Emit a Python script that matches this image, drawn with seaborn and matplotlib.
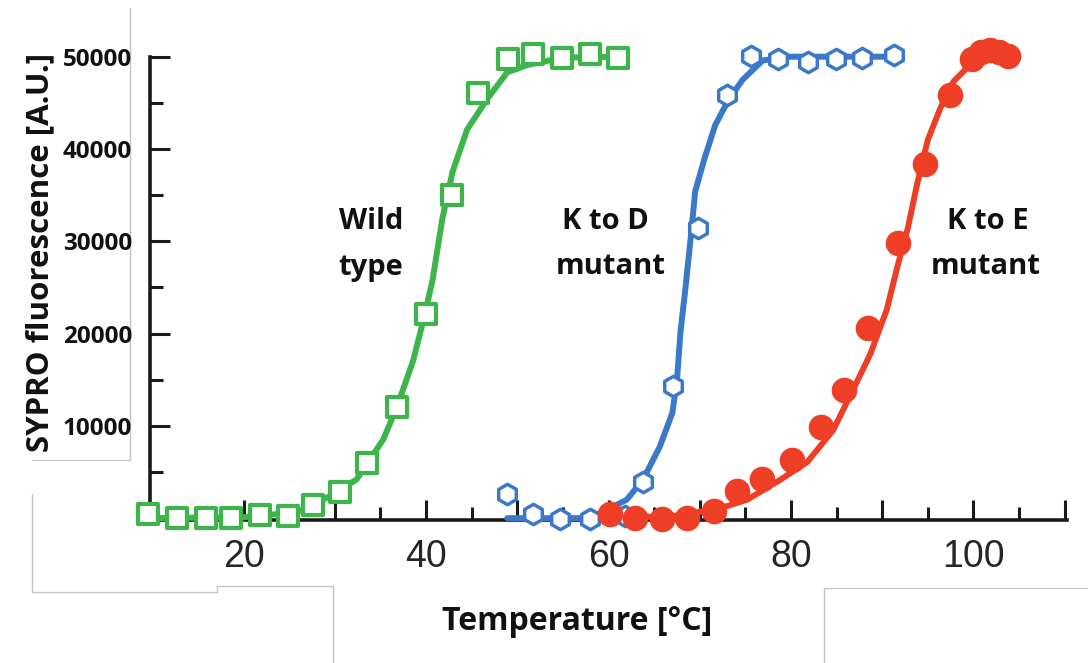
import numpy as np
import pandas as pd
import matplotlib
matplotlib.use("Agg")
import matplotlib.pyplot as plt
from matplotlib.lines import Line2D
from matplotlib.ticker import FixedLocator
import seaborn as sns

# ---- measured melt curves (temperature in deg C, SYPRO signal in A.U.) ----
wt_temp = [9.5, 12.7, 15.9, 18.6, 21.8, 24.9, 27.6, 30.6, 33.5, 36.8, 40.0,
           42.8, 45.7, 49.0, 51.7, 54.9, 58.0, 61.0]
wt_signal = [430, 0, 0, 0, 320, 220, 1400, 2800, 6000, 12000, 22100,
             35000, 46100, 49800, 50300, 49900, 50300, 49900]

kd_temp = [48.9, 51.7, 54.7, 58.0, 61.8, 63.8, 67.1, 69.8, 73.0, 75.6, 78.6,
           81.9, 84.9, 87.8, 91.3]
kd_signal = [2600, 430, -100, -100, 200, 3900, 14300, 31400, 45800, 50100,
             49700, 49400, 49800, 49900, 50200]

ke_temp = [60.2, 62.9, 65.9, 68.6, 71.6, 74.1, 76.8, 80.1, 83.3, 85.8, 88.4,
           91.7, 94.7, 97.4, 99.8, 100.8, 101.8, 102.8, 103.8]
ke_signal = [430, 0, -100, 0, 750, 2900, 4200, 6300, 9900, 13900, 20600,
             29800, 38400, 45900, 49800, 50500, 50700, 50500, 50100]

# ---- fitted transition curves ----
wt_fit_temp = [9.5, 20.0, 25.9, 29.5, 32.4, 35.3, 36.8, 38.6, 39.7, 40.7, 41.8,
               42.9, 44.5, 46.7, 48.9, 51.1, 55.0, 61.0]
wt_fit_signal = [0, 100, 650, 2400, 4200, 8500, 12000, 17100, 21400, 25700,
                 32500, 37500, 42100, 45400, 48300, 49100, 49900, 50000]

kd_fit_temp = [48.9, 58.0, 62.0, 63.8, 65.6, 67.0, 67.5, 67.9, 68.4, 69.0, 69.5,
               70.5, 71.7, 73.2, 74.7, 76.9, 80.0, 91.3]
kd_fit_signal = [0, 0, 2000, 4200, 7700, 11400, 14900, 20300, 24600, 30300,
                 35400, 38900, 42600, 45400, 47500, 49600, 50000, 50000]

ke_fit_temp = [60.2, 68.0, 73.0, 75.2, 78.9, 81.8, 84.6, 86.8, 88.7, 90.5, 91.7,
               92.8, 93.8, 95.0, 96.4, 97.8, 99.7, 102.9, 104.3]
ke_fit_signal = [0, 300, 1300, 2000, 4200, 6100, 9500, 13900, 17800, 22600,
                 27400, 31400, 36100, 41000, 44500, 47300, 49200, 50400, 50200]

# ---- axis ticks and labels ----
x_major_ticks = [20, 30, 40, 50, 60, 70, 80, 90, 100, 110]
x_tick_labels = ["20", "", "40", "", "60", "", "80", "", "100", ""]
x_minor_ticks = [15, 25, 35, 45, 55, 65, 75, 85, 95, 105]
y_major_ticks = [10000, 20000, 30000, 40000, 50000]
y_tick_labels = ["10000", "20000", "30000", "40000", "50000"]
y_minor_ticks = [5000, 15000, 25000, 35000, 45000]

# curve captions: first line, second line, centre x of each line (pixels)
caption_lines = [("Wild", "type"), ("K to D", "mutant"), ("K to E", "mutant")]
caption_centres = [(371, 371), (605, 611), (988, 986)]

GREEN = "#3db54a"
BLUE = "#3a79c9"
RED = "#ee3f26"

sns.set_theme(style="white")
plt.rcParams["font.family"] = ["Open Sans", "DejaVu Sans"]

W, H = 1088, 663
fig = plt.figure(figsize=(W / 100, H / 100), dpi=100)
fig.patch.set_facecolor("white")


def fx(px):
    return px / W


def fy(py):
    return 1 - py / H


ax = fig.add_axes([fx(150), fy(520), fx(1067) - fx(150), fy(56.7) - fy(520)])
ax.set_facecolor("white")

# fitted curves
for t, s, c in [(wt_fit_temp, wt_fit_signal, GREEN),
                (kd_fit_temp, kd_fit_signal, BLUE),
                (ke_fit_temp, ke_fit_signal, RED)]:
    sns.lineplot(x=t, y=s, ax=ax, color=c, lw=4.3, sort=False,
                 estimator=None, zorder=3, clip_on=False)

# measured points
sns.scatterplot(x=wt_temp, y=wt_signal, ax=ax, marker="s", s=215,
                facecolor="white", edgecolor=GREEN, linewidth=3.0,
                zorder=4, clip_on=False)
sns.scatterplot(x=kd_temp, y=kd_signal, ax=ax, marker="h", s=215,
                facecolor="white", edgecolor=BLUE, linewidth=2.5,
                zorder=4, clip_on=False)
sns.scatterplot(x=ke_temp, y=ke_signal, ax=ax, marker="o", s=340,
                color=RED, edgecolor=RED, linewidth=0,
                zorder=5, clip_on=False)

ax.set_xlim(9.75, 110.25)
ax.set_ylim(-200, 50000)

for side in ["top", "right"]:
    ax.spines[side].set_visible(False)
for side in ["left", "bottom"]:
    ax.spines[side].set_linewidth(2.6)
    ax.spines[side].set_color("#1a1a1a")
    ax.spines[side].set_zorder(2)

ax.xaxis.set_major_locator(FixedLocator(x_major_ticks))
ax.xaxis.set_minor_locator(FixedLocator(x_minor_ticks))
ax.set_xticklabels(x_tick_labels)
ax.yaxis.set_major_locator(FixedLocator(y_major_ticks))
ax.yaxis.set_minor_locator(FixedLocator(y_minor_ticks))
ax.set_yticklabels(y_tick_labels)

ax.tick_params(axis="both", which="both", bottom=True, left=True,
               top=False, right=False)
ax.tick_params(axis="both", which="major", direction="in", length=14.5,
               width=2.2, color="#1a1a1a")
ax.tick_params(axis="both", which="minor", direction="in", length=9.5,
               width=2.2, color="#1a1a1a")
ax.tick_params(axis="x", which="major", pad=14, labelsize=27,
               labelcolor="#262626")
ax.tick_params(axis="y", which="major", pad=13, labelsize=17.5,
               labelcolor="#111111")
for lab in ax.get_xticklabels():
    lab.set_family(["Liberation Sans", "DejaVu Sans"])
for lab in ax.get_yticklabels():
    lab.set_fontweight("bold")

# curve captions
for (top, bottom), (cx_top, cx_bottom) in zip(caption_lines, caption_centres):
    fig.text(fx(cx_top), fy(222), top, ha="center", va="center",
             fontsize=21, fontweight="bold", color="#111111")
    fig.text(fx(cx_bottom), fy(267), bottom, ha="center", va="center",
             fontsize=21, fontweight="bold", color="#111111")

# axis titles
fig.text(fx(40), fy(252), "SYPRO fluorescence [A.U.]", rotation=90,
         ha="center", va="center", fontsize=22.5, fontweight="bold",
         color="#111111")
fig.text(fx(577), fy(622), "Temperature [°C]", ha="center", va="center",
         fontsize=23, fontweight="bold", color="#111111")

# thin frame lines around the title panels
frame_segments = [
    [(129.5, 8), (129.5, 460), (32, 460)],
    [(32, 494), (32, 592), (217, 592), (217, 586), (333, 586), (333, 663)],
    [(824, 663), (824, 588), (1088, 588)],
]
for seg in frame_segments:
    xs = [fx(p[0]) for p in seg]
    ys = [fy(p[1]) for p in seg]
    fig.add_artist(Line2D(xs, ys, transform=fig.transFigure, color="#c4c4c4",
                          lw=1.0, zorder=0))

fig.savefig("out.png", dpi=100, facecolor="white")
